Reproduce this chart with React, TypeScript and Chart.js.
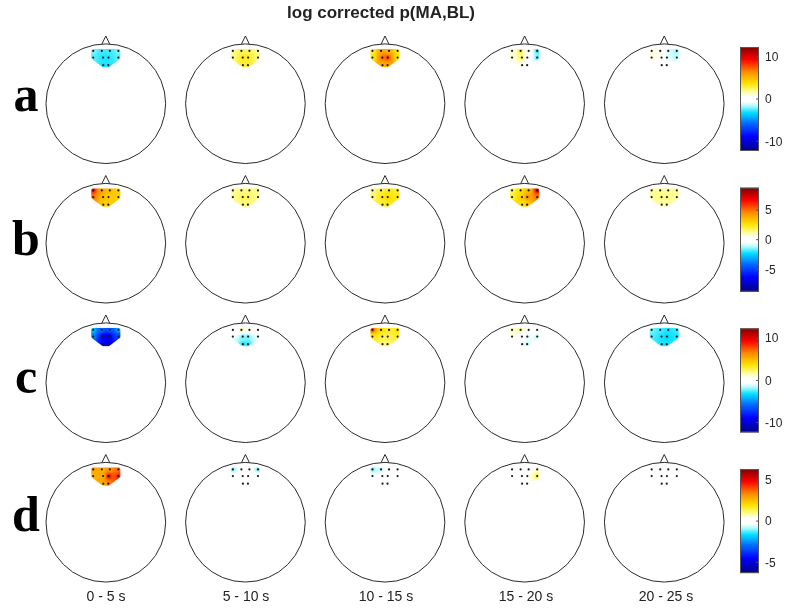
import React, { useEffect, useRef } from 'react';
import { Chart, registerables } from 'chart.js';

Chart.register(...registerables);

// ---------- data ----------
const titleText = 'log corrected p(MA,BL)';
const rowLabels = ['a', 'b', 'c', 'd'];
const timeWindows = ['0 - 5 s', '5 - 10 s', '10 - 15 s', '15 - 20 s', '20 - 25 s'];

// channel positions (head-radius units, nose up)
const channelX = [-0.21, -0.067, 0.067, 0.21, -0.21, -0.045, 0.045, 0.21, -0.042, 0.042];
const channelY = [0.883, 0.883, 0.883, 0.883, 0.772, 0.772, 0.772, 0.772, 0.645, 0.645];
const hullOrder = [0, 1, 2, 3, 7, 9, 8, 4];

// channel values per time window (one list per head)
const rowA = [
  [-2, -2.6, -2.6, -2, -2.4, -3, -3, -2.4, -3, -3],
  [1.5, 2.5, 2.5, 1.5, 2, 3.5, 3.5, 2, 3, 3],
  [2.5, 5.5, 5, 3, 3, 7.5, 8.5, 3.5, 5, 5.5],
  [1, 3, 0.5, -3, 1, 3, -1, -2.5, 1, 0],
  [1.2, 1.2, -1.5, -2, 1, 1.2, -1.5, -1.5, 0.5, -0.5],
];
const rowB = [
  [6.5, 4, 3.5, 3, 5, 3.5, 3, 3, 3, 3],
  [1.2, 1.5, 1.5, 1.2, 1.2, 1.8, 1.8, 1.2, 1.5, 1.5],
  [1.2, 2, 2.5, 2, 1.5, 2.5, 3, 2.5, 2, 2.5],
  [1.5, 2.5, 3.5, 7, 2, 3, 4.5, 5, 2.5, 3],
  [1.2, 1.2, 1.2, 1.2, 1.2, 1.5, 1.5, 1.2, 1, 1],
];
const rowC = [
  [-3.5, -5.5, -6, -4, -5, -9.5, -10.5, -7, -9, -9.5],
  [0.5, 2, 1.5, 0.5, -1, -2.5, -2.5, -1, -3, -3],
  [8, 4, 3, 3.5, 3, 2.5, 2.5, 3, 2, 2],
  [1.5, 2, 1, 0, 1, 0.5, -1.5, -1.5, -1, -1.5],
  [-2, -2.5, -3, -2.5, -2.5, -3, -3.5, -3, -3, -3],
];
const rowD = [
  [3, 2.5, 3, 3.5, 2.5, 2.5, 5, 4.5, 2.5, 3.5],
  [-1.2, -0.2, 0, -1.2, 0, 0, 0, 0, 0, 0],
  [-1.2, -0.8, 0, 0, -0.3, 0, 0, 0, 0, 0],
  [0, 0, 0, 0.5, 0, 0, 0.5, 1.5, 0, 0.3],
  [0.2, 0, 0, 0, 0, 0, 0, 0, 0, 0],
];
const rowValues = [rowA, rowB, rowC, rowD];

// colour limits (symmetric) and colourbar ticks per row
const colorLimits = [12.3, 8.8, 12.3, 6.3];
const ticksA = [10, 0, -10];
const ticksB = [5, 0, -5];
const ticksC = [10, 0, -10];
const ticksD = [5, 0, -5];
const rowTicks = [ticksA, ticksB, ticksC, ticksD];

// ---------- layout / style ----------
const W = 787;
const H = 612;
const R = 60; // head radius px
const COL0 = 105;
const ROW0 = 103;
const PITCH = 140;
const P = PITCH / R;
const CB_X = 740;
const CB_W = 19;
const CB_H = 104;
const CB_TOP0 = 47;
const CB_PITCH = 140.7;
const LABEL_BASE = [111, 255, 393, 531];

const cmapStops: [number, number[]][] = [
  [0.0, [0, 0, 135]],
  [0.14, [0, 0, 255]],
  [0.27, [0, 110, 255]],
  [0.37, [0, 225, 255]],
  [0.43, [170, 250, 255]],
  [0.475, [255, 255, 255]],
  [0.525, [255, 255, 255]],
  [0.57, [255, 255, 150]],
  [0.65, [255, 228, 0]],
  [0.76, [255, 140, 0]],
  [0.88, [255, 0, 0]],
  [1.0, [128, 0, 0]],
];

function cmap(f: number): number[] {
  const t = Math.max(0, Math.min(1, f));
  for (let i = 1; i < cmapStops.length; i++) {
    const [f1, c1] = cmapStops[i];
    const [f0, c0] = cmapStops[i - 1];
    if (t <= f1) {
      const u = (t - f0) / (f1 - f0 || 1);
      return [0, 1, 2].map((k) => Math.round(c0[k] + (c1[k] - c0[k]) * u));
    }
  }
  return cmapStops[cmapStops.length - 1][1];
}

function inPoly(x: number, y: number, poly: number[][]) {
  let inside = false;
  for (let i = 0, j = poly.length - 1; i < poly.length; j = i++) {
    const [xi, yi] = poly[i];
    const [xj, yj] = poly[j];
    if (yi > y !== yj > y && x < ((xj - xi) * (y - yi)) / (yj - yi) + xi) inside = !inside;
  }
  return inside;
}

function distPoly(x: number, y: number, poly: number[][]) {
  let best = Infinity;
  for (let i = 0, j = poly.length - 1; i < poly.length; j = i++) {
    const [x1, y1] = poly[j];
    const [x2, y2] = poly[i];
    const dx = x2 - x1;
    const dy = y2 - y1;
    const l2 = dx * dx + dy * dy || 1;
    let t = ((x - x1) * dx + (y - y1) * dy) / l2;
    t = Math.max(0, Math.min(1, t));
    const ex = x1 + t * dx - x;
    const ey = y1 + t * dy - y;
    best = Math.min(best, Math.sqrt(ex * ex + ey * ey));
  }
  return best;
}

function drawPatch(ctx: CanvasRenderingContext2D, xs: any, ys: any, ox: number, oy: number, values: number[], limit: number) {
  const px = channelX.map((c) => xs.getPixelForValue(ox + c));
  const py = channelY.map((c) => ys.getPixelForValue(oy + c));
  const poly = hullOrder.map((k) => [px[k], py[k]]);
  const pad = 2;
  const x0 = Math.floor(Math.min(...poly.map((p) => p[0])) - pad - 2);
  const x1 = Math.ceil(Math.max(...poly.map((p) => p[0])) + pad + 2);
  const y0 = Math.floor(Math.min(...poly.map((p) => p[1])) - pad - 2);
  const y1 = Math.ceil(Math.max(...poly.map((p) => p[1])) + pad + 2);
  const w = x1 - x0;
  const h = y1 - y0;
  const off = document.createElement('canvas');
  off.width = w;
  off.height = h;
  const octx = off.getContext('2d')!;
  const img = octx.createImageData(w, h);
  for (let iy = 0; iy < h; iy++) {
    for (let ix = 0; ix < w; ix++) {
      const sx = x0 + ix + 0.5;
      const sy = y0 + iy + 0.5;
      const d = inPoly(sx, sy, poly) ? 0 : distPoly(sx, sy, poly);
      const cover = Math.max(0, Math.min(1, pad + 0.5 - d));
      if (cover <= 0) continue;
      let ws = 0;
      let vs = 0;
      for (let k = 0; k < px.length; k++) {
        const dd = (sx - px[k]) ** 2 + (sy - py[k]) ** 2 + 0.5;
        const wt = 1 / dd;
        ws += wt;
        vs += wt * values[k];
      }
      const v = vs / ws;
      const c = cmap(0.5 + v / (2 * limit));
      const o = (iy * w + ix) * 4;
      img.data[o] = c[0];
      img.data[o + 1] = c[1];
      img.data[o + 2] = c[2];
      img.data[o + 3] = Math.round(cover * 255);
    }
  }
  octx.putImageData(img, 0, 0);
  ctx.drawImage(off, x0, y0);
}

const topoPlugin = {
  id: 'topo',
  beforeDatasetsDraw(chart: any) {
    const { ctx } = chart;
    const xs = chart.scales.x;
    const ys = chart.scales.y;
    const rpx = xs.getPixelForValue(1) - xs.getPixelForValue(0);
    ctx.save();
    ctx.fillStyle = '#ffffff';
    ctx.fillRect(0, 0, chart.width, chart.height);
    rowValues.forEach((row, i) => {
      row.forEach((vals, j) => {
        const ox = j * P;
        const oy = -i * P;
        drawPatch(ctx, xs, ys, ox, oy, vals, colorLimits[i]);
        const cx = xs.getPixelForValue(ox);
        const cy = ys.getPixelForValue(oy);
        ctx.strokeStyle = '#2b2b2b';
        ctx.lineWidth = 1;
        ctx.beginPath();
        ctx.arc(cx, cy, rpx, 0, Math.PI * 2);
        ctx.stroke();
        ctx.beginPath();
        ctx.moveTo(xs.getPixelForValue(ox - 0.065), ys.getPixelForValue(oy + 0.998));
        ctx.lineTo(xs.getPixelForValue(ox), ys.getPixelForValue(oy + 1.133));
        ctx.lineTo(xs.getPixelForValue(ox + 0.065), ys.getPixelForValue(oy + 0.998));
        ctx.stroke();
      });
    });
    ctx.restore();
  },
  afterDraw(chart: any) {
    const { ctx } = chart;
    ctx.save();
    // colourbars
    rowTicks.forEach((ticks, i) => {
      const top = CB_TOP0 + i * CB_PITCH;
      const lim = colorLimits[i];
      const g = ctx.createLinearGradient(0, top + CB_H, 0, top);
      cmapStops.forEach(([f, c]) => g.addColorStop(f, `rgb(${c[0]},${c[1]},${c[2]})`));
      ctx.fillStyle = g;
      ctx.fillRect(CB_X, top, CB_W, CB_H);
      ctx.strokeStyle = '#555';
      ctx.lineWidth = 1;
      ctx.strokeRect(CB_X + 0.5, top + 0.5, CB_W - 1, CB_H - 1);
      ctx.font = '12px "Liberation Sans", Arial, sans-serif';
      ctx.fillStyle = '#262626';
      ctx.textAlign = 'left';
      ctx.textBaseline = 'middle';
      ticks.forEach((t) => {
        const ty = top + ((lim - t) / (2 * lim)) * CB_H;
        ctx.beginPath();
        ctx.moveTo(CB_X + CB_W - 3, ty);
        ctx.lineTo(CB_X + CB_W, ty);
        ctx.stroke();
        ctx.fillText(String(t), CB_X + CB_W + 6, ty + 1);
      });
    });
    // title
    ctx.fillStyle = '#222';
    ctx.textAlign = 'center';
    ctx.textBaseline = 'alphabetic';
    ctx.font = 'bold 17px "Liberation Sans", Arial, sans-serif';
    ctx.fillText(titleText, 381, 18);
    // column labels
    ctx.font = '14px "Liberation Sans", Arial, sans-serif';
    timeWindows.forEach((t, j) => ctx.fillText(t, 106 + j * PITCH, 601));
    // row labels
    ctx.fillStyle = '#000';
    ctx.font = 'bold 50px "Liberation Serif", "Times New Roman", serif';
    rowLabels.forEach((l, i) => ctx.fillText(l, 26, LABEL_BASE[i]));
    ctx.restore();
  },
};

export default function App() {
  const ref = useRef<HTMLCanvasElement>(null);
  useEffect(() => {
    const points: { x: number; y: number }[] = [];
    rowValues.forEach((row, i) =>
      row.forEach((_, j) =>
        channelX.forEach((cx, k) => points.push({ x: j * P + cx, y: -i * P + channelY[k] }))
      )
    );
    const chart = new Chart(ref.current as HTMLCanvasElement, {
      type: 'scatter',
      data: {
        datasets: [
          {
            data: points,
            pointRadius: 1.1,
            pointHoverRadius: 1.1,
            pointBackgroundColor: '#1a1a1a',
            pointBorderWidth: 0,
          },
        ],
      },
      options: {
        responsive: false,
        animation: false,
        events: [],
        layout: { padding: 0 },
        scales: {
          x: { type: 'linear', display: false, min: -COL0 / R, max: (W - COL0) / R },
          y: { type: 'linear', display: false, min: (ROW0 - H) / R, max: ROW0 / R },
        },
        plugins: { legend: { display: false }, tooltip: { enabled: false }, title: { display: false } },
      },
      plugins: [topoPlugin],
    } as any);
    return () => chart.destroy();
  }, []);
  return (
    <div style={{ position: 'fixed', left: 0, top: 0, width: W, height: H, background: '#fff' }}>
      <canvas ref={ref} width={W} height={H} style={{ display: 'block' }} />
    </div>
  );
}
